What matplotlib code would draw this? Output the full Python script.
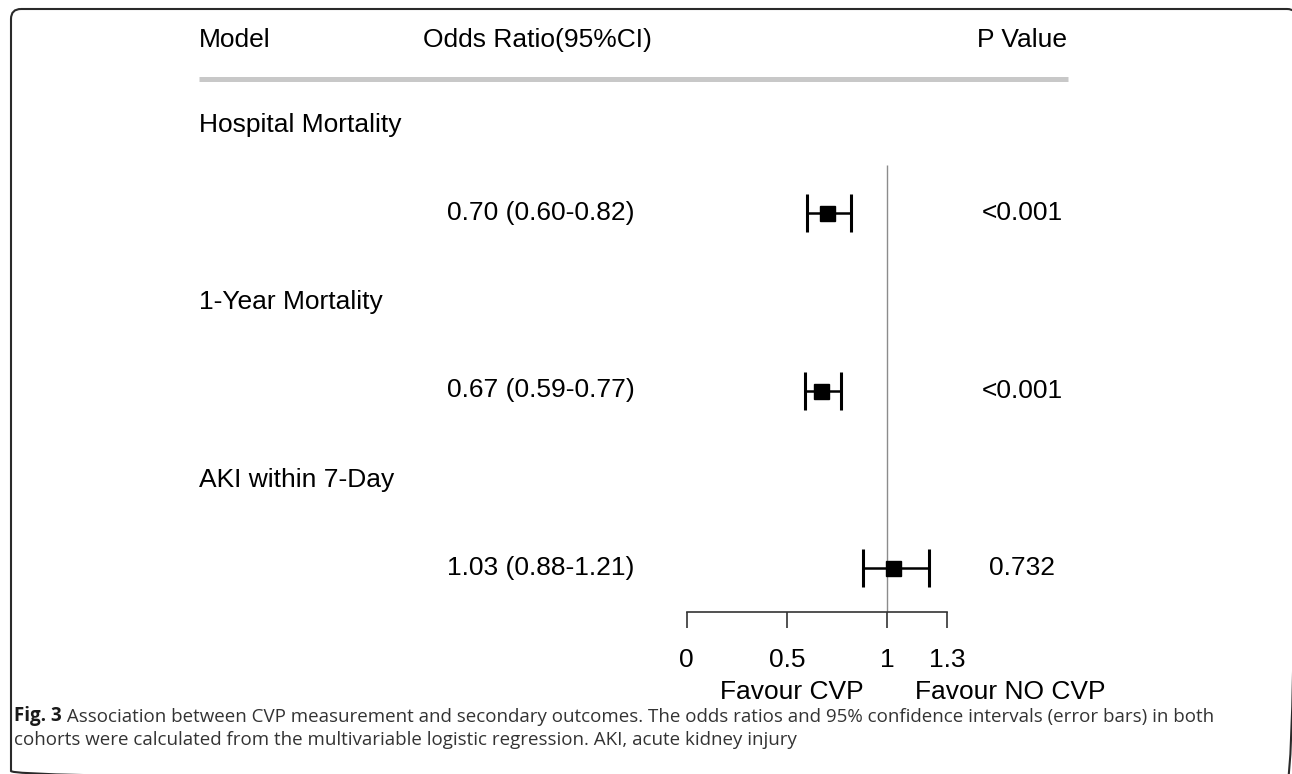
import numpy as np
import matplotlib
matplotlib.use("Agg")
import matplotlib.pyplot as plt
from matplotlib.patches import FancyBboxPatch

plt.rcParams['font.family'] = ['Liberation Sans', 'DejaVu Sans']

# data
outcomes = ["Hospital Mortality", "1-Year Mortality", "AKI within 7-Day"]
odds = np.array([0.70, 0.67, 1.03])
ci_low = np.array([0.60, 0.59, 0.88])
ci_high = np.array([0.82, 0.77, 1.21])
p_values = ["<0.001", "<0.001", "0.732"]
ticks = [0, 0.5, 1, 1.3]
tick_labels = ["0", "0.5", "1", "1.3"]

W, H = 1292, 774
fig = plt.figure(figsize=(W / 100, H / 100), dpi=100)

# layout axes in pixels (y downwards)
lay = fig.add_axes([0, 0, 1, 1])
lay.set_xlim(0, W)
lay.set_ylim(H, 0)
lay.axis('off')

# forest axes: x in odds-ratio units, y shares the pixel rows
ax = fig.add_axes([0, 0, 1, 1])
x0, scale = 686.7, 200.3
ax.set_xlim(-x0 / scale, (W - x0) / scale)
ax.set_ylim(H, 0)
ax.axis('off')

# frame: only the top and left edges (with the rounded corners) fall inside the picture
frame = FancyBboxPatch((11, 9), 1286, 772, boxstyle="round,pad=0,rounding_size=10",
                       fill=False, ec='#2a2a2a', lw=1.5)
lay.add_patch(frame)
frame.set_clip_box(None)
frame.set_clip_path(None)

fs = 19
lay.text(199, 40, "Model", fontsize=fs, va='center', ha='left')
lay.text(423, 40, "Odds Ratio(95%CI)", fontsize=fs, va='center', ha='left')
lay.text(1022, 40, "P Value", fontsize=fs, va='center', ha='center')
lay.plot([199, 1068], [79, 79], color='#c8c8c8', lw=3.6, solid_capstyle='butt')

title_y = 125 + 177.5 * np.arange(len(outcomes))
row_y = title_y + 88

for i, name in enumerate(outcomes):
    lay.text(199, title_y[i], name, fontsize=fs, va='center', ha='left')
    lay.text(447, row_y[i], f"{odds[i]:.2f} ({ci_low[i]:.2f}-{ci_high[i]:.2f})",
             fontsize=fs, va='center', ha='left')
    lay.text(1022, row_y[i], p_values[i], fontsize=fs, va='center', ha='center')

axis_y = 612
ax.vlines(1, 165, axis_y, color='#8c8c8c', lw=1.0)
ax.errorbar(odds, row_y, xerr=[odds - ci_low, ci_high - odds], fmt='s', color='black',
            ms=10.8, capsize=14, capthick=2.2, elinewidth=1.8, zorder=3)

ax.plot([ticks[0], ticks[-1]], [axis_y, axis_y], color='#333333', lw=1.2)
ax.vlines(ticks, axis_y, axis_y + 16, color='#333333', lw=1.2)
for t, lab in zip(ticks, tick_labels):
    ax.text(t, 660, lab, fontsize=fs, ha='center', va='center')

lay.text(792, 692, "Favour CVP", fontsize=fs, ha='center', va='center')
lay.text(1010, 692, "Favour NO CVP", fontsize=fs, ha='center', va='center')

# caption
cap_fs = 13.5
bold = lay.text(14, 721, "Fig. 3", fontsize=cap_fs, fontweight='bold', family='Open Sans',
                color='#1a1a1a', va='baseline', ha='left')
lay.annotate(" Association between CVP measurement and secondary outcomes. The odds ratios and "
             "95% confidence intervals (error bars) in both",
             xy=(1, 0), xycoords=bold, xytext=(0, 0), textcoords='offset points',
             fontsize=cap_fs, family='Open Sans', color='#333333', va='bottom', ha='left')
lay.text(14, 745, "cohorts were calculated from the multivariable logistic regression. "
         "AKI, acute kidney injury", fontsize=cap_fs, family='Open Sans', color='#333333',
         va='baseline', ha='left')

fig.savefig("out.png", dpi=100)
